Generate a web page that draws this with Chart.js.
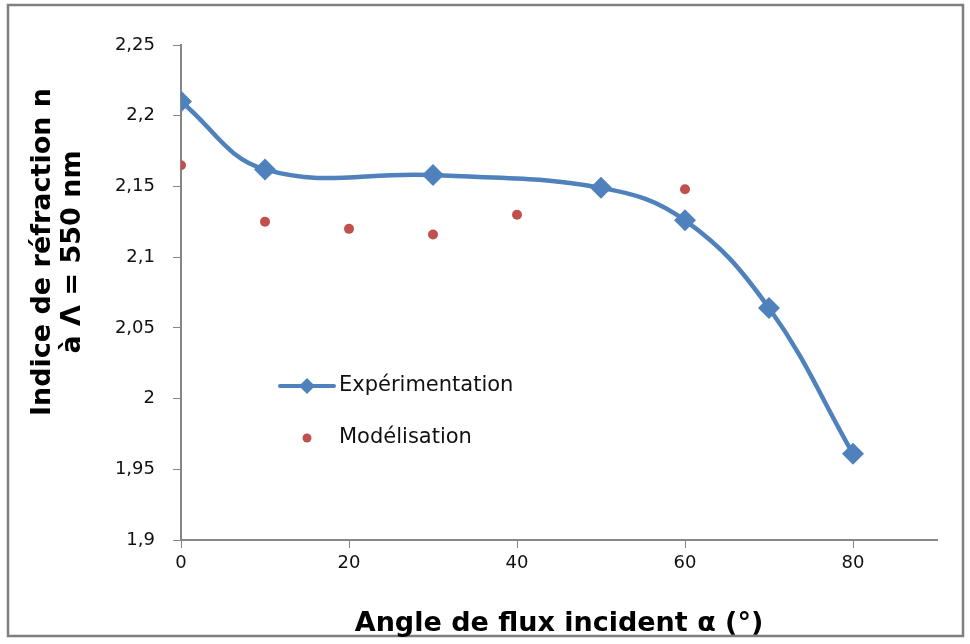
<!DOCTYPE html>
<html><head><meta charset="utf-8">
<script src="https://cdn.jsdelivr.net/npm/chart.js@4/dist/chart.umd.min.js"></script>
<style>html,body{margin:0;padding:0;background:#fff}#wrap{width:970px;height:644px;position:relative}</style>
</head><body><div id="wrap"><canvas id="c" width="970" height="644"></canvas></div>
<script>
const angles = [0, 10, 30, 50, 60, 70, 80];
const experimentation = [2.210, 2.162, 2.158, 2.149, 2.126, 2.064, 1.961];
const modelAngles = [0, 10, 20, 30, 40, 60, 70];
const modelisation = [2.165, 2.125, 2.120, 2.116, 2.130, 2.148, 2.063];
const xTicks = [0, 20, 40, 60, 80];
const yTicks = [1.9, 1.95, 2, 2.05, 2.1, 2.15, 2.2, 2.25];
const seriesNames = ['Expérimentation', 'Modélisation'];
const xTitle = 'Angle de flux incident α (°)';
const yTitle = ['Indice de réfraction n', 'à Λ = 550 nm'];

const BLUE = '#4F81BD', RED = '#C0504D', AXIS = '#868686';
const fmt = v => (Math.round(v * 100) / 100).toString().replace('.', ',');

const frame = {
  id: 'frame',
  beforeDraw(chart) {
    const ctx = chart.ctx;
    ctx.save();
    ctx.fillStyle = '#fff';
    ctx.fillRect(0, 0, chart.width, chart.height);
    ctx.strokeStyle = '#7f7f7f';
    ctx.lineWidth = 2.5;
    ctx.strokeRect(8, 5, 955, 631);
    ctx.restore();
  },
  afterDraw(chart) {
    const ctx = chart.ctx;
    const ca = chart.chartArea;
    // y-axis title (two lines, rotated), placed like the reference
    ctx.save();
    ctx.fillStyle = '#000';
    ctx.font = 'bold 27px "DejaVu Sans"';
    ctx.textAlign = 'center';
    ctx.textBaseline = 'middle';
    const cy = ca.top + 207;
    [43, 73].forEach((x, i) => {
      ctx.save();
      ctx.translate(x, cy);
      ctx.rotate(-Math.PI / 2);
      ctx.fillText(yTitle[i], 0, 0);
      ctx.restore();
    });
    ctx.restore();
    // legend inside plot area
    const x0 = ca.left + 99, y1 = ca.top + 341, y2 = ca.top + 393;
    ctx.save();
    ctx.strokeStyle = BLUE; ctx.lineWidth = 4; ctx.lineCap = 'round';
    ctx.beginPath(); ctx.moveTo(x0, y1); ctx.lineTo(x0 + 54, y1); ctx.stroke();
    ctx.fillStyle = BLUE;
    ctx.beginPath(); ctx.moveTo(x0 + 27, y1 - 8); ctx.lineTo(x0 + 35, y1); ctx.lineTo(x0 + 27, y1 + 8); ctx.lineTo(x0 + 19, y1); ctx.closePath(); ctx.fill();
    ctx.fillStyle = RED;
    ctx.beginPath(); ctx.arc(x0 + 27, y2, 4.5, 0, Math.PI * 2); ctx.fill();
    ctx.fillStyle = '#111';
    ctx.font = '21px "DejaVu Sans"';
    ctx.textBaseline = 'middle';
    ctx.fillText(seriesNames[0], x0 + 59, y1);
    ctx.fillText(seriesNames[1], x0 + 59, y2);
    ctx.restore();
  }
};

new Chart(document.getElementById('c'), {
  type: 'scatter',
  data: {
    datasets: [
      {
        label: seriesNames[0],
        data: angles.map((a, i) => ({x: a, y: experimentation[i]})),
        showLine: true,
        borderColor: BLUE, backgroundColor: BLUE,
        borderWidth: 4.5,
        tension: 0.4,
        pointStyle: 'rectRot', pointRadius: 11, pointHoverRadius: 11,
        pointBorderWidth: 0
      },
      {
        label: seriesNames[1],
        data: modelAngles.map((a, i) => ({x: a, y: modelisation[i]})),
        showLine: false,
        borderColor: RED, backgroundColor: RED,
        pointStyle: 'circle', pointRadius: 5, pointBorderWidth: 0
      }
    ]
  },
  options: {
    responsive: false, animation: false,
    layout: {padding: {left: 0, top: 45, right: 33, bottom: 0}},
    plugins: {legend: {display: false}, tooltip: {enabled: false}},
    scales: {
      x: {
        type: 'linear', min: 0, max: 90,
        afterBuildTicks: s => { s.ticks = xTicks.map(v => ({value: v})); },
        afterFit: s => { s.height = 104; },
        border: {color: AXIS, width: 2},
        grid: {drawOnChartArea: false, drawTicks: true, tickLength: 8, color: AXIS, lineWidth: 1},
        ticks: {color: '#111', font: {family: 'DejaVu Sans', size: 18}, padding: 5, callback: v => fmt(v)},
        title: {display: true, text: xTitle, color: '#000', font: {family: 'DejaVu Sans', size: 27, weight: 'bold'}, padding: {top: 2}}
      },
      y: {
        min: 1.9, max: 2.25,
        afterBuildTicks: s => { s.ticks = yTicks.map(v => ({value: v})); },
        afterFit: s => { s.width = 181; },
        border: {color: AXIS, width: 2},
        grid: {drawOnChartArea: false, drawTicks: true, tickLength: 8, color: AXIS, lineWidth: 1},
        ticks: {color: '#111', font: {family: 'DejaVu Sans', size: 18}, padding: 18, callback: v => fmt(v)},
        title: {display: false}
      }
    }
  },
  plugins: [frame]
});
</script></body></html>
